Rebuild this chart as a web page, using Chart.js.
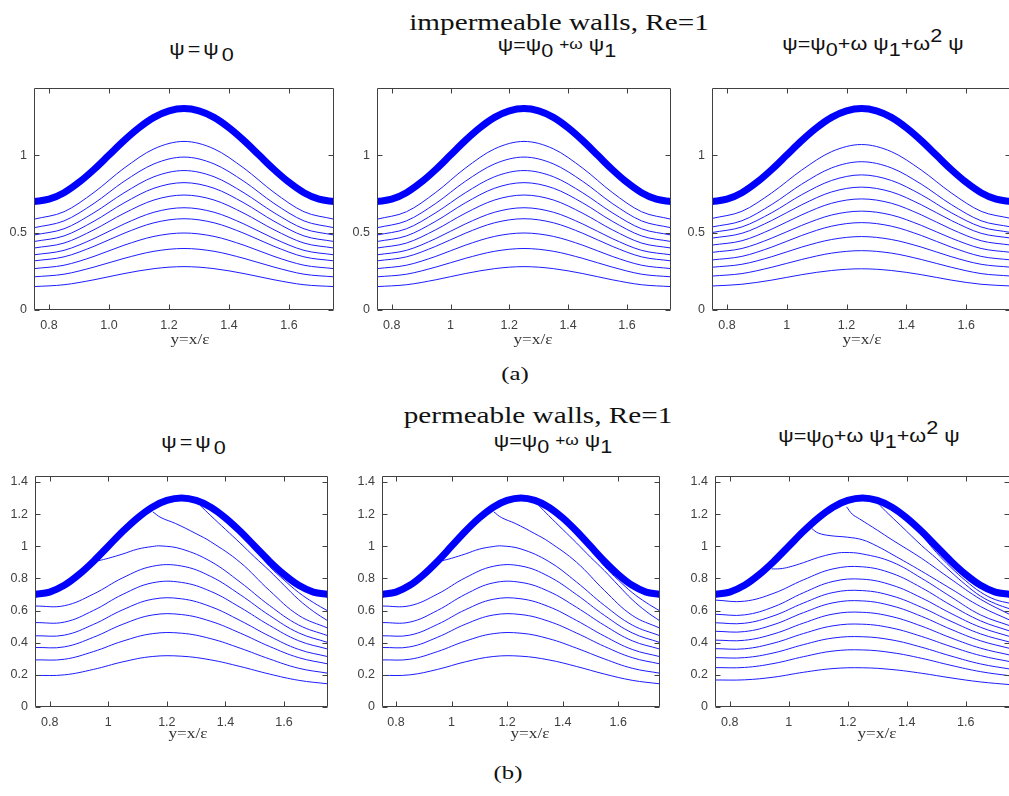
<!DOCTYPE html>
<html><head><meta charset="utf-8">
<script src="https://cdn.jsdelivr.net/npm/chart.js@4.4.1/dist/chart.umd.min.js"></script>
<style>
html,body{margin:0;padding:0;width:1009px;height:796px;overflow:hidden;background:#fff;}
canvas{position:absolute;}
.t{position:absolute;white-space:nowrap;transform:translateX(-50%) scaleX(var(--k));transform-origin:50% 50%;}
.serif{font-family:'Liberation Serif','Times New Roman',serif;}
.sans{font-family:'Liberation Sans',Arial,sans-serif;}
.sub{position:relative;top:6.5px;}
.sup{position:relative;top:-8px;}
.ttl{font-size:18px;line-height:18px;--k:1.2;color:#111;}
.one{letter-spacing:2.5px;}
.xl{font-size:15px;line-height:15px;--k:1.15;color:#333;}
</style></head><body>
<script>
// ---------- data ----------
const XS = [0.75,0.85,0.95,1.05,1.15,1.25,1.35,1.45,1.55,1.65,1.75];
const XS_WALL = [0.75,0.80,0.85,0.90,0.95,1.00,1.05,1.10,1.15,1.20,1.25,1.30,1.35,1.40,1.45,1.50,1.55,1.60,1.65,1.70,1.75];
const WALL = [0.700,0.715,0.757,0.824,0.907,1.000,1.093,1.176,1.243,1.285,1.300,1.285,1.243,1.176,1.093,1.000,0.907,0.824,0.757,0.715,0.700];
const X_TICKS = [0.8,1.0,1.2,1.4,1.6];
const Y_TICKS_A = [0,0.5,1];
const Y_TICKS_B = [0,0.2,0.4,0.6,0.8,1.0,1.2,1.4];

// impermeable walls: psi0 and psi0+w psi1 (identical at this resolution)
const STREAM_A12 = [
 [0.586,0.634,0.759,0.915,1.040,1.088,1.040,0.915,0.759,0.634,0.586],
 [0.531,0.575,0.688,0.830,0.943,0.987,0.943,0.830,0.688,0.575,0.531],
 [0.484,0.524,0.628,0.756,0.860,0.900,0.860,0.756,0.628,0.524,0.484],
 [0.442,0.478,0.573,0.691,0.786,0.822,0.786,0.691,0.573,0.478,0.442],
 [0.400,0.432,0.518,0.624,0.710,0.742,0.710,0.624,0.518,0.432,0.400],
 [0.356,0.385,0.461,0.555,0.631,0.660,0.631,0.555,0.461,0.385,0.356],
 [0.317,0.343,0.411,0.495,0.563,0.589,0.563,0.495,0.411,0.343,0.317],
 [0.267,0.289,0.346,0.418,0.475,0.497,0.475,0.418,0.346,0.289,0.267],
 [0.214,0.231,0.277,0.333,0.379,0.397,0.379,0.333,0.277,0.231,0.214],
 [0.151,0.163,0.195,0.235,0.267,0.280,0.267,0.235,0.195,0.163,0.151]
];
// impermeable walls: psi0+w psi1+w^2 psi2
const STREAM_A3 = [
 [0.591,0.637,0.756,0.903,1.022,1.068,1.022,0.903,0.756,0.637,0.591],
 [0.536,0.576,0.681,0.812,0.917,0.957,0.917,0.812,0.681,0.576,0.536],
 [0.500,0.536,0.628,0.744,0.836,0.872,0.836,0.744,0.628,0.536,0.500],
 [0.464,0.495,0.578,0.679,0.762,0.793,0.762,0.679,0.578,0.495,0.464],
 [0.419,0.447,0.522,0.614,0.689,0.717,0.689,0.614,0.522,0.447,0.419],
 [0.372,0.397,0.464,0.546,0.613,0.638,0.613,0.546,0.464,0.397,0.372],
 [0.323,0.346,0.406,0.481,0.541,0.564,0.541,0.481,0.406,0.346,0.323],
 [0.276,0.295,0.344,0.406,0.455,0.474,0.455,0.406,0.344,0.295,0.276],
 [0.219,0.235,0.276,0.326,0.367,0.383,0.367,0.326,0.276,0.235,0.219],
 [0.155,0.166,0.193,0.228,0.255,0.266,0.255,0.228,0.193,0.166,0.155]
];
// permeable walls: psi0 and psi0+w psi1 (full streamlines)
const STREAM_B12 = [
 [0.628,0.630,0.703,0.804,0.875,0.877,0.812,0.699,0.570,0.461,0.401],
 [0.525,0.528,0.601,0.701,0.772,0.775,0.719,0.620,0.508,0.412,0.360],
 [0.443,0.447,0.514,0.605,0.670,0.673,0.624,0.538,0.441,0.358,0.313],
 [0.370,0.374,0.434,0.515,0.572,0.575,0.533,0.460,0.377,0.307,0.268],
 [0.293,0.297,0.345,0.410,0.456,0.459,0.425,0.366,0.299,0.241,0.210],
 [0.196,0.200,0.234,0.281,0.314,0.316,0.293,0.252,0.205,0.166,0.144]
];
// permeable walls: streamlines leaving from the wall, [x, y] pairs
const BRANCH_B12 = [
 [[0.967,0.910],[1.00,0.925],[1.05,0.952],[1.10,0.982],[1.15,0.998],[1.18,1.002],[1.25,0.983],[1.35,0.905],[1.45,0.777],[1.55,0.632],[1.65,0.510],[1.75,0.443]],
 [[1.152,1.214],[1.18,1.178],[1.229,1.142],[1.30,1.078],[1.35,1.028],[1.45,0.900],[1.55,0.725],[1.65,0.570],[1.75,0.490]],
 [[1.313,1.255],[1.35,1.190],[1.40,1.105],[1.45,1.020],[1.50,0.932],[1.55,0.848],[1.60,0.757],[1.65,0.668],[1.70,0.595],[1.75,0.535]],
 [[1.510,0.962],[1.55,0.875],[1.60,0.790],[1.65,0.712],[1.70,0.650],[1.75,0.597]]
];
// permeable walls: psi0+w psi1+w^2 psi2
const STREAM_B3 = [
 [0.665,0.658,0.708,0.791,0.859,0.872,0.831,0.742,0.633,0.536,0.472],
 [0.577,0.573,0.624,0.711,0.781,0.795,0.758,0.679,0.582,0.496,0.438],
 [0.524,0.521,0.568,0.647,0.712,0.724,0.691,0.620,0.533,0.455,0.403],
 [0.471,0.469,0.513,0.587,0.648,0.660,0.629,0.564,0.483,0.412,0.364],
 [0.416,0.415,0.455,0.522,0.578,0.589,0.562,0.503,0.430,0.366,0.323],
 [0.363,0.362,0.398,0.457,0.505,0.515,0.491,0.439,0.376,0.320,0.282],
 [0.307,0.307,0.337,0.388,0.429,0.437,0.417,0.372,0.317,0.268,0.236],
 [0.245,0.246,0.271,0.313,0.348,0.355,0.338,0.303,0.259,0.220,0.194],
 [0.168,0.169,0.186,0.216,0.239,0.244,0.233,0.210,0.181,0.156,0.139]
];
const BRANCH_B3 = [
 [[0.942,0.859],[0.97,0.860],[1.00,0.870],[1.05,0.898],[1.10,0.930],[1.15,0.953],[1.19,0.961],[1.25,0.952],[1.35,0.902],[1.45,0.801],[1.55,0.685],[1.65,0.573],[1.75,0.505]],
 [[1.078,1.110],[1.10,1.082],[1.14,1.066],[1.20,1.056],[1.25,1.040],[1.30,1.000],[1.35,0.950],[1.45,0.845],[1.55,0.735],[1.65,0.625],[1.75,0.540]],
 [[1.196,1.245],[1.215,1.200],[1.24,1.170],[1.30,1.100],[1.35,1.040],[1.45,0.925],[1.55,0.795],[1.65,0.670],[1.75,0.575]],
 [[1.309,1.255],[1.33,1.215],[1.38,1.128],[1.45,1.005],[1.50,0.925],[1.55,0.840],[1.60,0.760],[1.65,0.690],[1.70,0.643],[1.75,0.610]],
 [[1.434,1.098],[1.46,1.048],[1.50,0.962],[1.55,0.868],[1.60,0.785],[1.65,0.715],[1.70,0.668],[1.75,0.645]]
];

// ---------- layout ----------
const PANELS = [
 {rect:[34,85,300,225],  ymax:1.436, yticks:Y_TICKS_A, fixedX:true,  smooth:'monotone', full:STREAM_A12, branch:[]},
 {rect:[377,85,294,225], ymax:1.436, yticks:Y_TICKS_A, fixedX:false, smooth:'monotone', full:STREAM_A12, branch:[]},
 {rect:[712,85,299,225], ymax:1.436, yticks:Y_TICKS_A, fixedX:false, smooth:'monotone', full:STREAM_A3,  branch:[]},
 {rect:[35,473,293,234], ymax:1.44,  yticks:Y_TICKS_B, fixedX:false, smooth:'default',  full:STREAM_B12, branch:BRANCH_B12},
 {rect:[382,473,278,234],ymax:1.44,  yticks:Y_TICKS_B, fixedX:false, smooth:'default',  full:STREAM_B12, branch:BRANCH_B12},
 {rect:[715,473,295,234],ymax:1.44,  yticks:Y_TICKS_B, fixedX:false, smooth:'default',  full:STREAM_B3,  branch:BRANCH_B3}
];
const LEFT_W = 40, PAD_T = 12, PAD_R = 12, BOT_H = 28;
const WALL_COLOR = '#0000ff', LINE_COLOR = '#1c1cff', AXIS_COLOR = '#404040';

const framePlugin = {
  id: 'frame',
  afterDatasetsDraw(chart) {
    const {ctx, chartArea: a, scales: {x, y}} = chart;
    ctx.save();
    ctx.strokeStyle = AXIS_COLOR; ctx.lineWidth = 1;
    const L = Math.round(a.left) + 0.5, R = Math.round(a.right) - 0.5;
    const T = Math.round(a.top) + 0.5, B = Math.round(a.bottom) - 0.5;
    ctx.beginPath();
    ctx.rect(L, T, R - L, B - T);
    x.ticks.forEach(t => {
      const px = Math.round(x.getPixelForValue(t.value)) + 0.5;
      ctx.moveTo(px, B); ctx.lineTo(px, B - 5);
      ctx.moveTo(px, T); ctx.lineTo(px, T + 5);
    });
    y.ticks.forEach(t => {
      const py = Math.round(y.getPixelForValue(t.value)) + 0.5;
      ctx.moveTo(L, py); ctx.lineTo(L + 5, py);
      ctx.moveTo(R, py); ctx.lineTo(R - 5, py);
    });
    ctx.stroke();
    ctx.restore();
  }
};

const tickFont = {family: "'Liberation Sans', Arial, sans-serif", size: 12.5};
const trim = v => String(+(+v).toFixed(1));

PANELS.forEach(p => {
  const [l, t, w, h] = p.rect;
  const W = w + LEFT_W + PAD_R, H = h + PAD_T + BOT_H;
  const c = document.createElement('canvas');
  c.width = W; c.height = H;
  c.style.left = (l - LEFT_W) + 'px'; c.style.top = (t - PAD_T) + 'px';
  c.style.width = W + 'px'; c.style.height = H + 'px';
  document.body.appendChild(c);

  const lineStyle = {borderColor: LINE_COLOR, borderWidth: 1, clip: 0,
                     cubicInterpolationMode: p.smooth, tension: p.smooth === 'default' ? 0.4 : 0};
  const ds = [{data: XS_WALL.map((x, i) => ({x, y: WALL[i]})), borderColor: WALL_COLOR, borderWidth: 7, clip: 0,
               cubicInterpolationMode: 'monotone'}];
  p.full.forEach(a => ds.push(Object.assign({data: a.map((y, i) => ({x: XS[i], y}))}, lineStyle)));
  p.branch.forEach(a => ds.push(Object.assign({data: a.map(q => ({x: q[0], y: q[1]}))}, lineStyle)));

  new Chart(c, {
    type: 'line',
    data: {datasets: ds},
    options: {
      responsive: false, animation: false, devicePixelRatio: 1, events: [],
      layout: {padding: {top: PAD_T, right: PAD_R, left: 0, bottom: 0}},
      plugins: {legend: {display: false}, tooltip: {enabled: false}},
      elements: {point: {radius: 0}, line: {borderCapStyle: 'butt', borderJoinStyle: 'round', fill: false}},
      scales: {
        x: {
          type: 'linear', min: 0.75, max: 1.75,
          grid: {display: false, drawTicks: false}, border: {display: false},
          afterBuildTicks: s => { s.ticks = X_TICKS.map(v => ({value: v})); },
          afterFit: s => { s.height = BOT_H; },
          ticks: {autoSkip: false, maxRotation: 0, padding: 8, color: AXIS_COLOR, font: tickFont,
                  callback: v => p.fixedX ? (+v).toFixed(1) : trim(v)}
        },
        y: {
          type: 'linear', min: 0, max: p.ymax,
          grid: {display: false, drawTicks: false}, border: {display: false},
          afterBuildTicks: s => { s.ticks = p.yticks.map(v => ({value: v})); },
          afterFit: s => { s.width = LEFT_W; },
          ticks: {autoSkip: false, padding: 7, color: AXIS_COLOR, font: tickFont, callback: v => trim(v)}
        }
      }
    },
    plugins: [framePlugin]
  });
});
</script>

<div class="t serif" style="left:559px;top:11px;font-size:23px;line-height:23px;--k:1.27;color:#111">impermeable walls, Re=1</div>
<div class="t serif" style="left:538px;top:404px;font-size:23px;line-height:23px;--k:1.27;color:#111">permeable walls, Re=1</div>
<div class="t serif" style="left:515px;top:364px;font-size:19px;line-height:19px;--k:1.3;color:#111">(a)</div>
<div class="t serif" style="left:508px;top:763px;font-size:19px;line-height:19px;--k:1.3;color:#111">(b)</div>

<div class="t sans ttl one" style="left:203px;top:39.5px">ψ=ψ<span class="sub">0</span></div>
<div class="t sans ttl" style="left:557px;top:35.5px">ψ=ψ<span class="sub">0</span> <span style="font-size:80%;position:relative;top:-2px">+ω</span> ψ<span class="sub">1</span></div>
<div class="t sans ttl" style="left:873px;top:34.5px">ψ=ψ<span class="sub">0</span>+ω ψ<span class="sub">1</span>+ω<span class="sup">2</span> ψ</div>
<div class="t sans ttl one" style="left:195px;top:432.5px">ψ=ψ<span class="sub">0</span></div>
<div class="t sans ttl" style="left:553px;top:431.5px">ψ=ψ<span class="sub">0</span> <span style="font-size:80%;position:relative;top:-2px">+ω</span> ψ<span class="sub">1</span></div>
<div class="t sans ttl" style="left:869px;top:426.5px">ψ=ψ<span class="sub">0</span>+ω ψ<span class="sub">1</span>+ω<span class="sup">2</span> ψ</div>

<div class="t serif xl" style="left:190px;top:332px">y=x/ε</div>
<div class="t serif xl" style="left:533px;top:332px">y=x/ε</div>
<div class="t serif xl" style="left:862px;top:332px">y=x/ε</div>
<div class="t serif xl" style="left:188px;top:726px">y=x/ε</div>
<div class="t serif xl" style="left:530px;top:726px">y=x/ε</div>
<div class="t serif xl" style="left:877px;top:726px">y=x/ε</div>
</body></html>
